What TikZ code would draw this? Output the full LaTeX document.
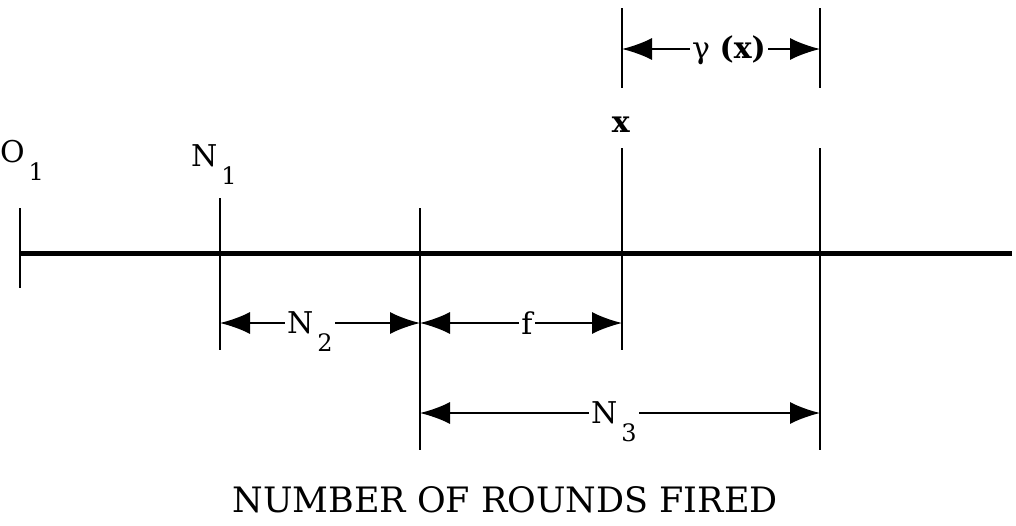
\documentclass[tikz,border=0pt]{standalone}
\usepackage{fontspec}
\setmainfont{DejaVu Serif}
\usetikzlibrary{arrows.meta}

% label with a lowered subscript
\newcommand{\lowsub}[2]{#1\kern2pt\raisebox{-9pt}[0pt][0pt]{\fontsize{12}{14}\selectfont #2}}

\begin{document}
\begin{tikzpicture}[x=0.5pt, y=-0.5pt,
    font=\fontsize{15}{18}\selectfont,
    axis/.style={line width=2.5pt},
    tick/.style={line width=1.3pt},
    dim/.style={{Latex[length=15pt,width=11pt]}-{Latex[length=15pt,width=11pt]}, line width=1pt},
    dimlabel/.style={fill=white, inner sep=1pt}]

    \useasboundingbox (0,0) rectangle (1016,525);

    % axis
    \coordinate (start) at (20,253);
    \coordinate (end) at (1012,253);
    \draw[axis] (start) -- (end);

    % ticks
    \foreach \x/\ya/\yb in {20/208/288, 220/198/350, 420/208/450, 622/148/350, 820/148/450, 622/8/88, 820/8/88} {
        \draw[tick] (\x,\ya) -- (\x,\yb);
    }

    % labels at the ticks
    \node (O1) at (22,152) {\lowsub{O}{1}};
    \node (N1) at (214,156) {\lowsub{N}{1}};
    \node (x) at (621,125) {\textbf{x}};

    % dimensions
    \coordinate (gl) at (622,49);
    \coordinate (gr) at (820,49);
    \coordinate (n2l) at (220,323);
    \coordinate (n2r) at (420,323);
    \coordinate (fl) at (420,323);
    \coordinate (fr) at (622,323);
    \coordinate (n3l) at (420,413);
    \coordinate (n3r) at (820,413);

    \draw[dim] (gl) -- node[dimlabel, xshift=4pt] (gamma) {\smash{γ} \textbf{(x)}} (gr);
    \draw[dim] (n2l) -- node[dimlabel, xshift=-5pt] (N2) {\lowsub{N}{2}} (n2r);
    \draw[dim] (fl) -- node[dimlabel, xshift=3pt] (f) {f} (fr);
    \draw[dim] (n3l) -- node[dimlabel, xshift=-3pt] (N3) {\lowsub{N}{3}} (n3r);

    \node[font=\fontsize{17.5}{20}\selectfont] (title) at (505,500) {NUMBER OF ROUNDS FIRED};

\end{tikzpicture}
\end{document}
